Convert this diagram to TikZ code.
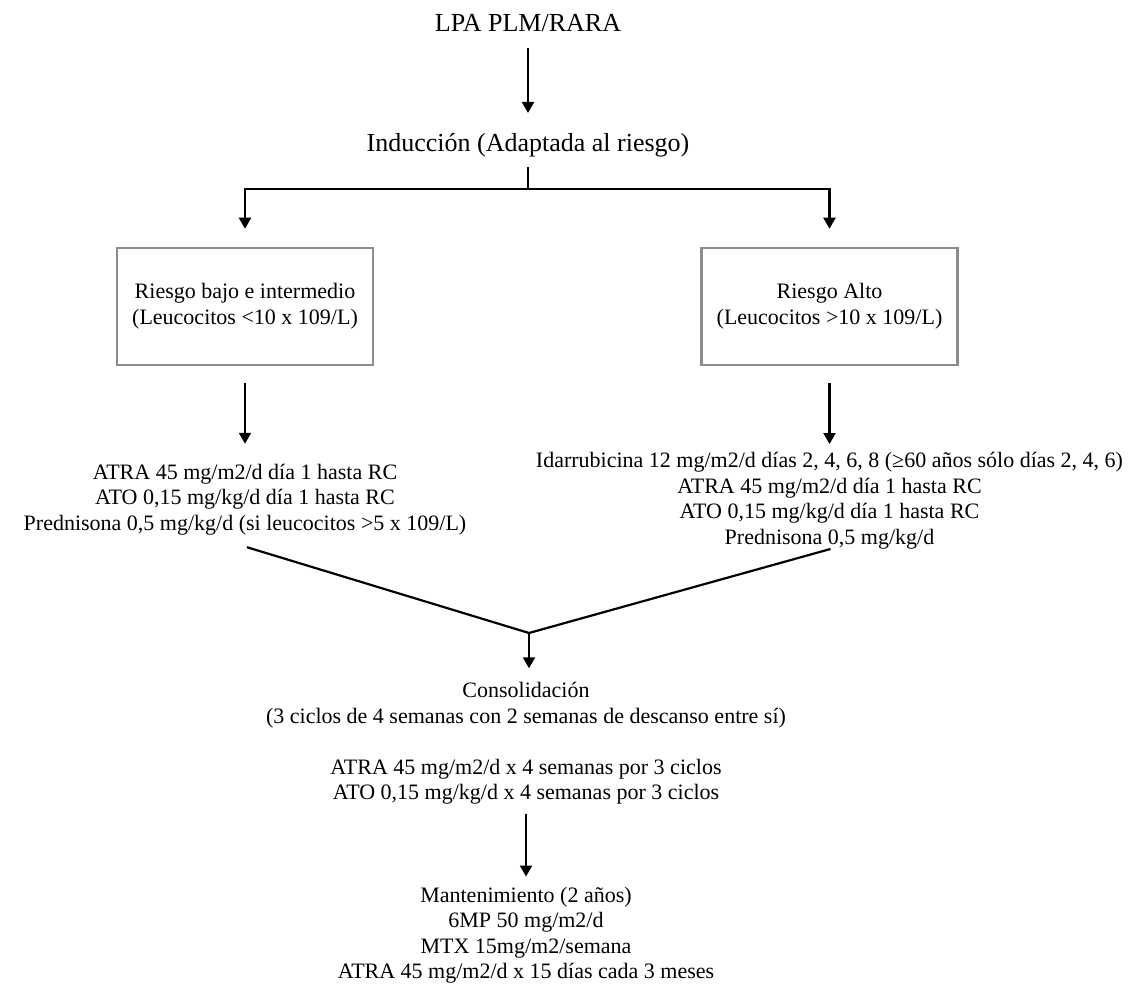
\documentclass[tikz,border=0pt]{standalone}
\usepackage{fontspec}
\setmainfont{Liberation Serif}
\usepackage{tikz}
\usetikzlibrary{arrows.meta, positioning}
\definecolor{boxgray}{HTML}{8C8C8C}
\tikzset{
    flow/.style={line width=2.2pt, black},
    flowarrow/.style={flow, -{Triangle[length=11pt, width=12pt]}},
    titletext/.style={font=\fontsize{26}{30}\selectfont, inner sep=0pt},
    plain/.style={font=\fontsize{22}{25.5}\selectfont, align=center, inner sep=0pt},
    riskbox/.style={rectangle, draw=boxgray, line width=2.5pt, minimum width=256pt, minimum height=117pt, align=center, font=\fontsize{22}{26}\selectfont}
}

\begin{document}
\begin{tikzpicture}[x=1pt, y=-1pt]
    \useasboundingbox (0,0) rectangle (1143,984);
    % Nodes
    \node (lpa) [titletext] at (528,23.5) {LPA PLM/RARA};
    \node (induccion) [titletext] at (528,145) {Inducción (Adaptada al riesgo)};
    \coordinate (split) at (528,189);
    \node (bajo) [riskbox] at (245,306.5) {Riesgo bajo e intermedio\\(Leucocitos <10 x 109/L)};
    \node (alto) [riskbox] at (829.5,306.5) {Riesgo Alto\\(Leucocitos >10 x 109/L)};
    \node (tratbajo) [plain] at (245,499.5) {ATRA 45 mg/m2/d día 1 hasta RC\\ATO 0,15 mg/kg/d día 1 hasta RC\\Prednisona 0,5 mg/kg/d (si leucocitos >5 x 109/L)};
    \node (tratalto) [plain] at (829.5,500.5) {Idarrubicina 12 mg/m2/d días 2, 4, 6, 8 (≥60 años sólo días 2, 4, 6)\\ATRA 45 mg/m2/d día 1 hasta RC\\ATO 0,15 mg/kg/d día 1 hasta RC\\Prednisona 0,5 mg/kg/d};
    \coordinate (union) at (529,633);
    \node (consolidacion) [plain] at (526,743.5) {Consolidación\\(3 ciclos de 4 semanas con 2 semanas de descanso entre sí)\\[25.5pt]ATRA 45 mg/m2/d x 4 semanas por 3 ciclos\\ATO 0,15 mg/kg/d x 4 semanas por 3 ciclos};
    \node (mantenimiento) [plain] at (526,935) {Mantenimiento (2 años)\\6MP 50 mg/m2/d\\MTX 15mg/m2/semana\\ATRA 45 mg/m2/d x 15 días cada 3 meses};

    % Arrows
    \draw [flowarrow] ([yshift=-16pt]lpa.south) -- ([yshift=20pt]induccion.north);
    \draw [flow] ([yshift=-10pt]induccion.south) -- (split);
    \draw [flowarrow] (split) -| ([yshift=18pt]bajo.north);
    \draw [flowarrow] (split) -| ([yshift=18pt]alto.north);
    \draw [flowarrow] ([yshift=-17pt]bajo.south) -- ([yshift=20pt]tratbajo.north);
    \draw [flowarrow] ([yshift=-17pt]alto.south) -- ([yshift=8pt]tratalto.north);
    \draw [flow] ([xshift=2pt, yshift=-12pt]tratbajo.south) -- (union);
    \draw [flow] ([xshift=1pt]tratalto.south) -- (union);
    \draw [flowarrow] (union) -- ([yshift=14pt]consolidacion.north -| union);
    \draw [flowarrow] ([yshift=-9pt]consolidacion.south) -- ([yshift=10pt]mantenimiento.north);
\end{tikzpicture}
\end{document}
